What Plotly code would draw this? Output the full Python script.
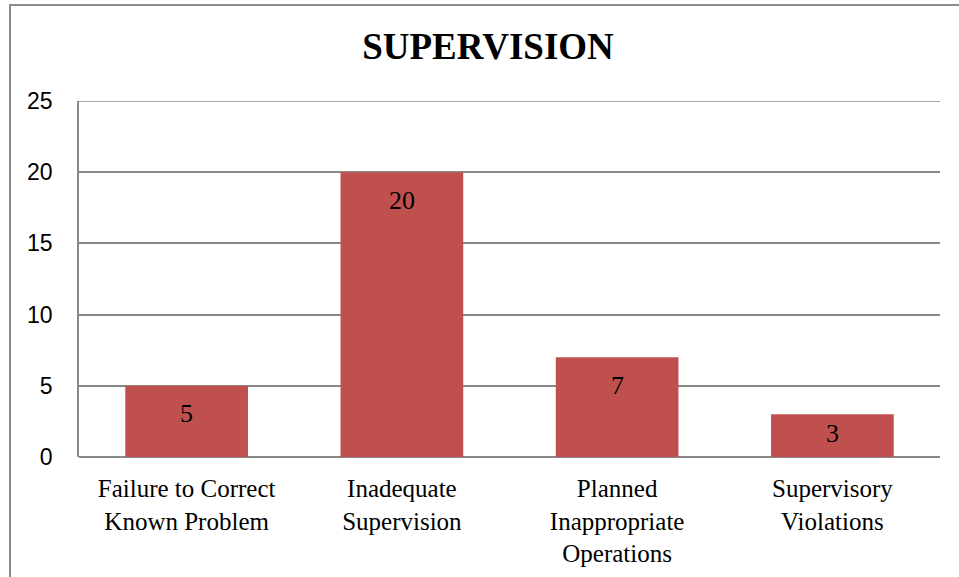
import plotly.graph_objects as go

categories = ["Failure to Correct<br>Known Problem", "Inadequate<br>Supervision",
              "Planned<br>Inappropriate<br>Operations", "Supervisory<br>Violations"]
values = [5, 20, 7, 3]
y_ticks = [0, 5, 10, 15, 20, 25]
title_text = "SUPERVISION"

W, H = 959, 577
ML, MR, MT, MB = 79, 19, 101, 120
plot_h = H - MT - MB
plot_w = W - ML - MR
px_per_unit = plot_h / 25.0
GRID = "#888888"

fig = go.Figure()
fig.add_trace(go.Bar(x=categories, y=values, marker=dict(color="#C0504D", line=dict(width=0)),
                     hoverinfo="skip"))

for c, v in zip(categories, values):
    shift = -min(28, 0.45 * v * px_per_unit)
    fig.add_annotation(x=c, y=v, text=str(v), showarrow=False, yshift=shift,
                       yanchor="middle", xanchor="center",
                       font=dict(family="Liberation Serif", size=26, color="#000000"))

# top gridline at the range edge (plotly drops it)
fig.add_shape(type="line", xref="paper", yref="y", x0=0, x1=1, y0=y_ticks[-1], y1=y_ticks[-1],
              line=dict(color=GRID, width=1.5), layer="below")

# outer chart border (cropped on right and bottom)
def px_to_paper_x(px):
    return (px - ML) / plot_w

def px_to_paper_y(py):
    return (H - MB - py) / plot_h

fig.add_shape(type="path",
              path=f"M {px_to_paper_x(10)} {px_to_paper_y(600)} L {px_to_paper_x(10)} {px_to_paper_y(5)} L {px_to_paper_x(1000)} {px_to_paper_y(5)}",
              xref="paper", yref="paper", line=dict(color="#8C8C8C", width=2), layer="above")

fig.update_layout(
    width=W, height=H,
    margin=dict(l=ML, r=MR, t=MT, b=MB, autoexpand=False),
    paper_bgcolor="white", plot_bgcolor="white",
    bargap=0.43,
    showlegend=False,
    title=dict(text=f"<b>{title_text}</b>", x=488 / W, xanchor="center", xref="container",
               y=1 - 46 / H, yanchor="middle", yref="container",
               font=dict(family="Liberation Serif", size=37, color="#000000")),
    xaxis=dict(showgrid=False, showline=False, zeroline=False, ticks="",
               tickfont=dict(family="Liberation Serif", size=25, color="#000000"),
               ticklabelstandoff=14),
    yaxis=dict(range=[0, 25], tickvals=y_ticks, showgrid=True, gridcolor=GRID, gridwidth=1.5,
               zeroline=True, zerolinecolor=GRID, zerolinewidth=1.5,
               showline=True, linecolor=GRID, linewidth=1.5, ticks="",
               tickfont=dict(family="Liberation Sans", size=23, color="#000000"),
               ticklabelstandoff=20),
)

fig.write_html("out.html", config={"displayModeBar": False},
               post_script="document.body.style.margin='0';document.body.style.overflow='hidden';")
